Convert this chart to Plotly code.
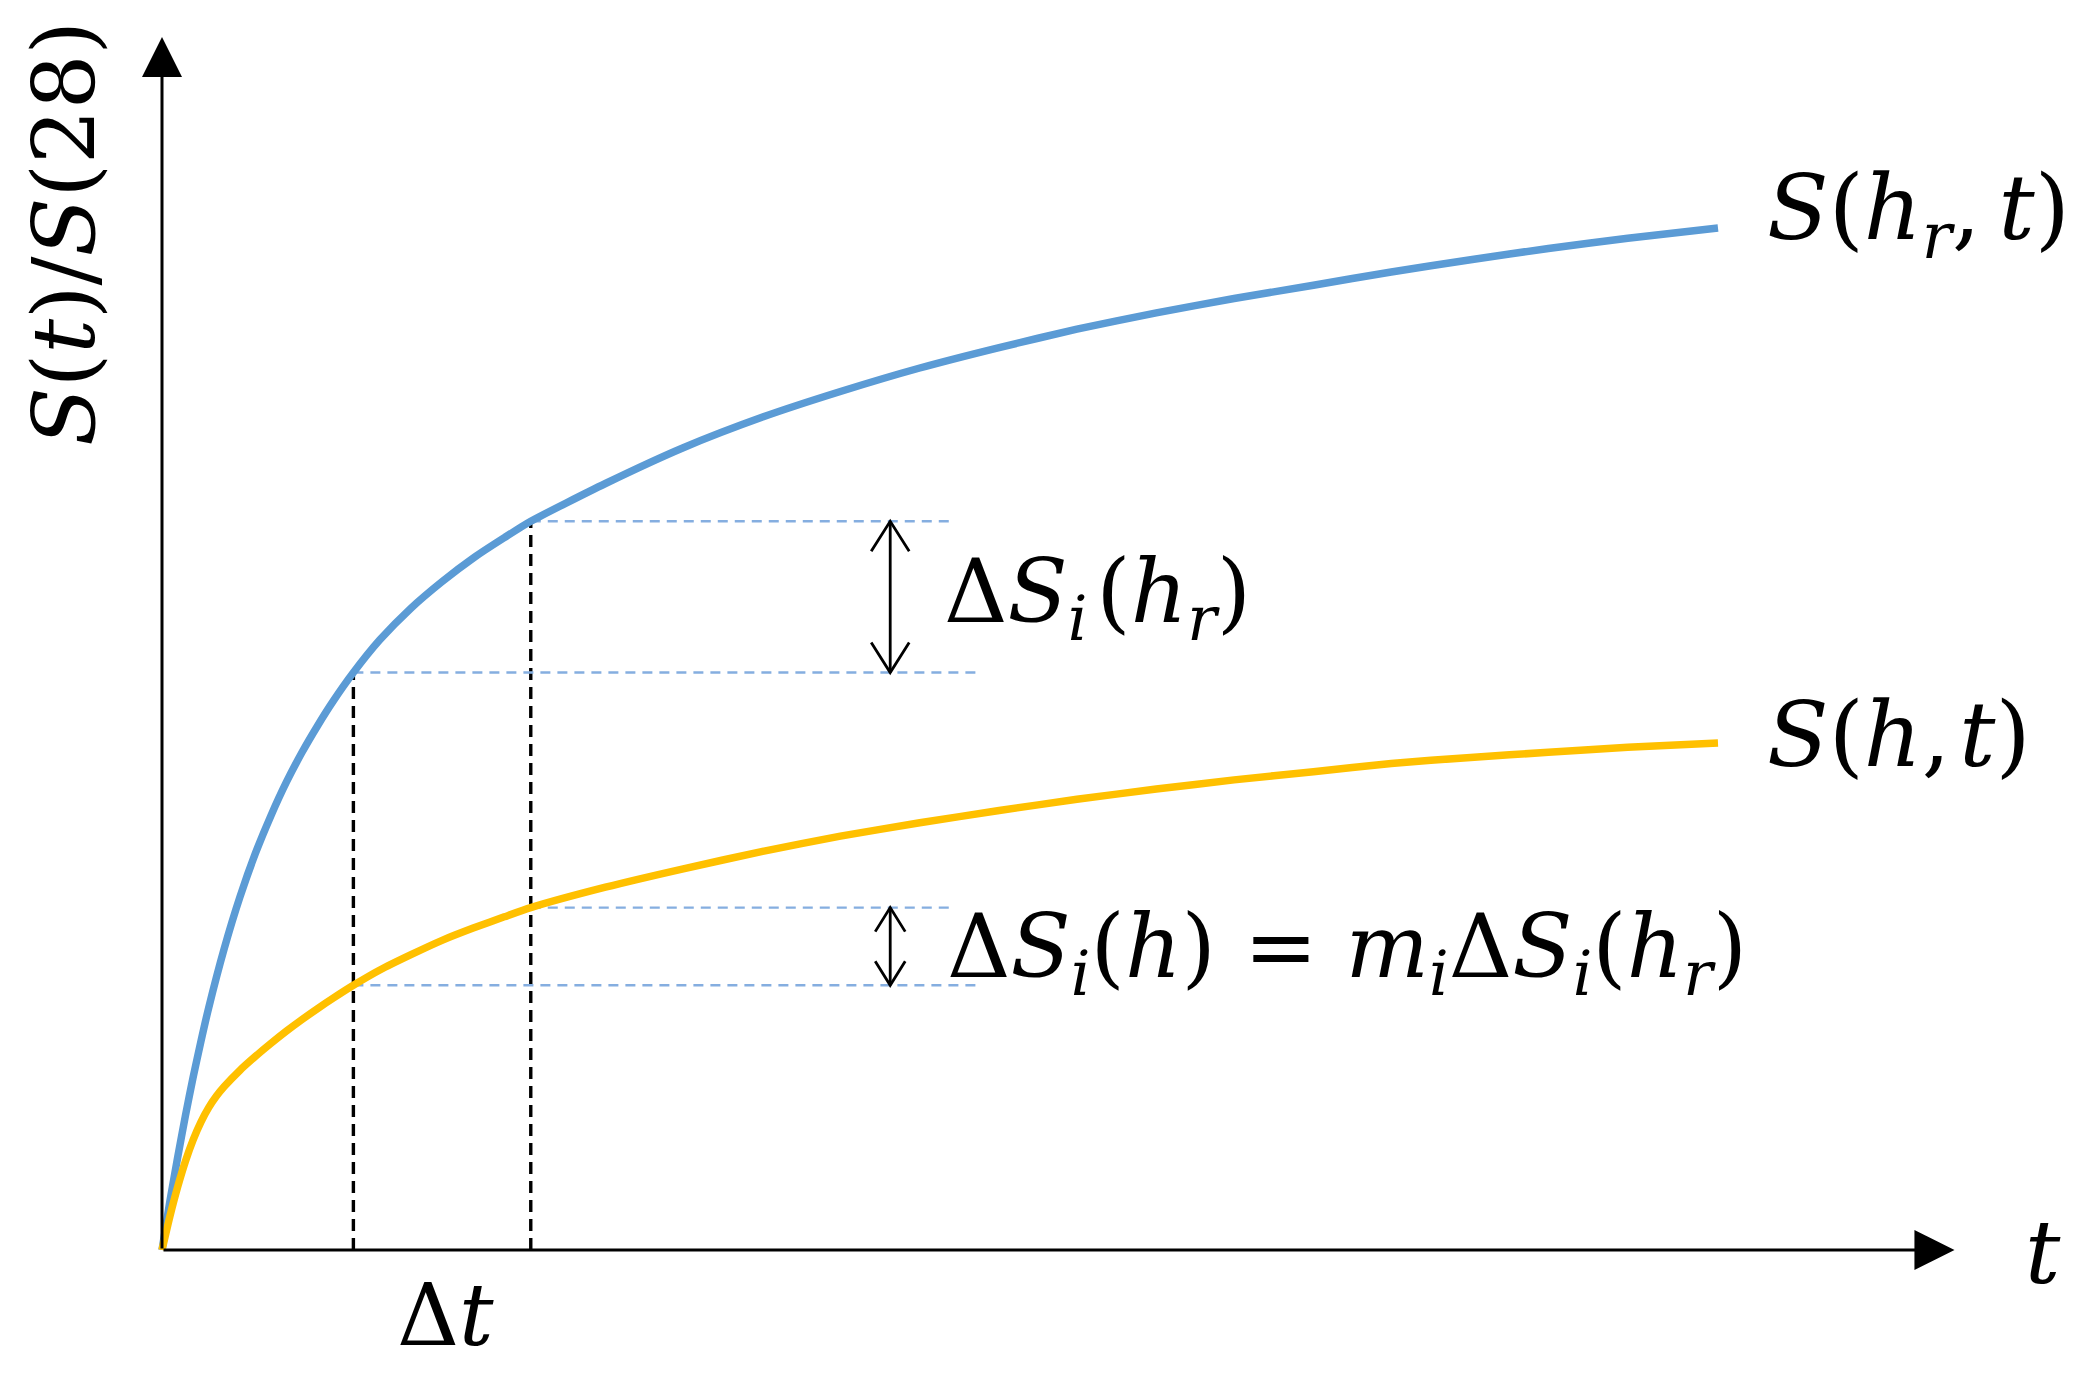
import numpy as np
import plotly.graph_objects as go

# ---------------- data ----------------
t_ref = [0, 0.5, 1, 1.5, 2, 2.5, 3, 4, 5, 6, 7, 8, 9, 10, 11, 12.3, 14, 16, 18, 20, 22, 23.7,
         28.5, 33.5, 38.6, 43.6, 48.7, 53.8, 58.8, 63.9, 68.9, 74, 79, 84.1, 89.1, 94.2, 100]
s_ref = [0, 0.047, 0.090, 0.131, 0.169, 0.204, 0.237, 0.295, 0.345, 0.388, 0.425, 0.458,
         0.487, 0.513, 0.537, 0.565, 0.597, 0.628, 0.654, 0.677, 0.697, 0.713,
         0.750, 0.785, 0.815, 0.840, 0.863, 0.883, 0.901, 0.917, 0.931, 0.944, 0.957,
         0.969, 0.980, 0.990, 1.000]

t_h = [0, 0.5, 1, 1.5, 2, 2.5, 3, 3.5, 4, 5, 6, 7, 8, 9, 10, 11, 12.3, 14, 16, 18, 20, 22, 23.7,
       28.5, 33.5, 38.6, 43.6, 48.7, 53.8, 58.8, 63.9, 68.9, 74, 79, 84.1, 89.1, 94.2, 100]
s_h = [0, 0.0325, 0.0614, 0.0866, 0.1078, 0.1252, 0.1393, 0.1506, 0.1599, 0.1757, 0.1894,
       0.2021, 0.2142, 0.2255, 0.2362, 0.2464, 0.259, 0.274, 0.289, 0.303, 0.315, 0.326, 0.335,
       0.355, 0.373, 0.390, 0.405, 0.418, 0.430, 0.441, 0.451, 0.460, 0.468, 0.476, 0.482,
       0.487, 0.492, 0.496]

t_marks = [12.3, 23.7]          # the two instants bounding Δt
dash_end = [52.7, 51.0]         # where the blue dashed guides stop
arrow_t = 46.8                  # position of the double arrows
axis_tip_t = 115.2
axis_tip_s = 1.187

# ---------------- geometry helpers ----------------
W, H = 2065, 1359          # page body keeps an 8 px margin
X0_PX, Y0_PX = 154, 1242
PX_T = 15.56     # pixels per t unit
PX_S = 1022.0    # pixels per S unit
xr = [-X0_PX / PX_T, (W - X0_PX) / PX_T]
yr = [-(H - Y0_PX) / PX_S, Y0_PX / PX_S]

BLUE = "#5B9BD5"
GOLD = "#FFC000"
GUIDE = "#85AEE0"
FONT = "DejaVu Serif"

fig = go.Figure()

# vertical black dashed lines
s_ref_marks = [float(np.interp(t, t_ref, s_ref)) for t in t_marks]
s_h_marks = [float(np.interp(t, t_h, s_h)) for t in t_marks]
for t, s in zip(t_marks, s_ref_marks):
    fig.add_trace(go.Scatter(x=[t, t], y=[0, s], mode="lines",
                             line=dict(color="black", width=3.4, dash="12px,7px"),
                             hoverinfo="skip"))

# horizontal blue dashed guides
for t, s, e in zip(t_marks, s_ref_marks, dash_end):
    fig.add_trace(go.Scatter(x=[t, e], y=[s, s], mode="lines",
                             line=dict(color=GUIDE, width=2.4, dash="10px,7px"), hoverinfo="skip"))
for t, s, e in zip(t_marks, s_h_marks, dash_end):
    fig.add_trace(go.Scatter(x=[t, e], y=[s, s], mode="lines",
                             line=dict(color=GUIDE, width=2.4, dash="10px,7px"), hoverinfo="skip"))

# curves
fig.add_trace(go.Scatter(x=t_ref, y=s_ref, mode="lines",
                         line=dict(color=BLUE, width=7.5, shape="spline", smoothing=0.6),
                         hoverinfo="skip"))
fig.add_trace(go.Scatter(x=t_h, y=s_h, mode="lines",
                         line=dict(color=GOLD, width=7.5, shape="spline", smoothing=0.6),
                         hoverinfo="skip"))

# double arrows (open V heads)
def double_arrow(top, bot, hl_px, hw_px):
    hw = hw_px / PX_T
    hl = hl_px / PX_S
    xs = [arrow_t, arrow_t, None,
          arrow_t - hw, arrow_t, arrow_t + hw, None,
          arrow_t - hw, arrow_t, arrow_t + hw]
    ys = [top, bot, None,
          top - hl, top, top - hl, None,
          bot + hl, bot, bot + hl]
    fig.add_trace(go.Scatter(x=xs, y=ys, mode="lines",
                             line=dict(color="black", width=2.8), hoverinfo="skip"))

double_arrow(s_ref_marks[1], s_ref_marks[0], 30, 19)
double_arrow(s_h_marks[1], s_h_marks[0], 24, 15)

# axes with filled arrow heads
for (x, y) in [(axis_tip_t, 0), (0, axis_tip_s)]:
    fig.add_annotation(x=x, y=y, ax=0, ay=0, xref="x", yref="y", axref="x", ayref="y",
                       text="", showarrow=True, arrowhead=2, arrowsize=2.67, arrowwidth=3,
                       arrowcolor="black", standoff=0, startstandoff=0)

def label(x, y, txt, size=88, xanchor="left", angle=0):
    fig.add_annotation(x=x, y=y, xref="x", yref="y", text=txt, showarrow=False,
                       xanchor=xanchor, yanchor="middle", textangle=angle,
                       font=dict(family=FONT, size=size, color="black"))

TS = "\u2009"   # thin space
HS = "\u200a"   # hair space
label(103.0, 1.014, "<i>S</i>(<i>h</i><sub><i>r</i></sub>," + TS + "<i>t</i>)", size=90)
label(103.0, 0.504, "<i>S</i>(<i>h</i>," + HS + "<i>t</i>)", size=90)
label(50.1, 0.638, "Δ<i>S</i><sub><i>i</i></sub>" + HS + "(<i>h</i><sub><i>r</i></sub>)")
label(50.3, 0.291, "Δ<i>S</i><sub><i>i</i></sub>(<i>h</i>) = <i>m</i><sub><i>i</i></sub>Δ<i>S</i><sub><i>i</i></sub>(<i>h</i><sub><i>r</i></sub>)")
label(120.9, -0.002, "<i>t</i>", xanchor="center")
label(18.2, -0.064, "Δ<i>t</i>", size=86, xanchor="center")
label(-6.3, 0.995, "<i>S</i>(<i>t</i>)/<i>S</i>(28)", size=86, xanchor="center", angle=-90)

fig.update_layout(width=W, height=H, margin=dict(l=0, r=0, t=0, b=0),
                  paper_bgcolor="white", plot_bgcolor="white", showlegend=False,
                  xaxis=dict(range=xr, visible=False, fixedrange=True),
                  yaxis=dict(range=yr, visible=False, fixedrange=True))

fig.write_html("out.html")
